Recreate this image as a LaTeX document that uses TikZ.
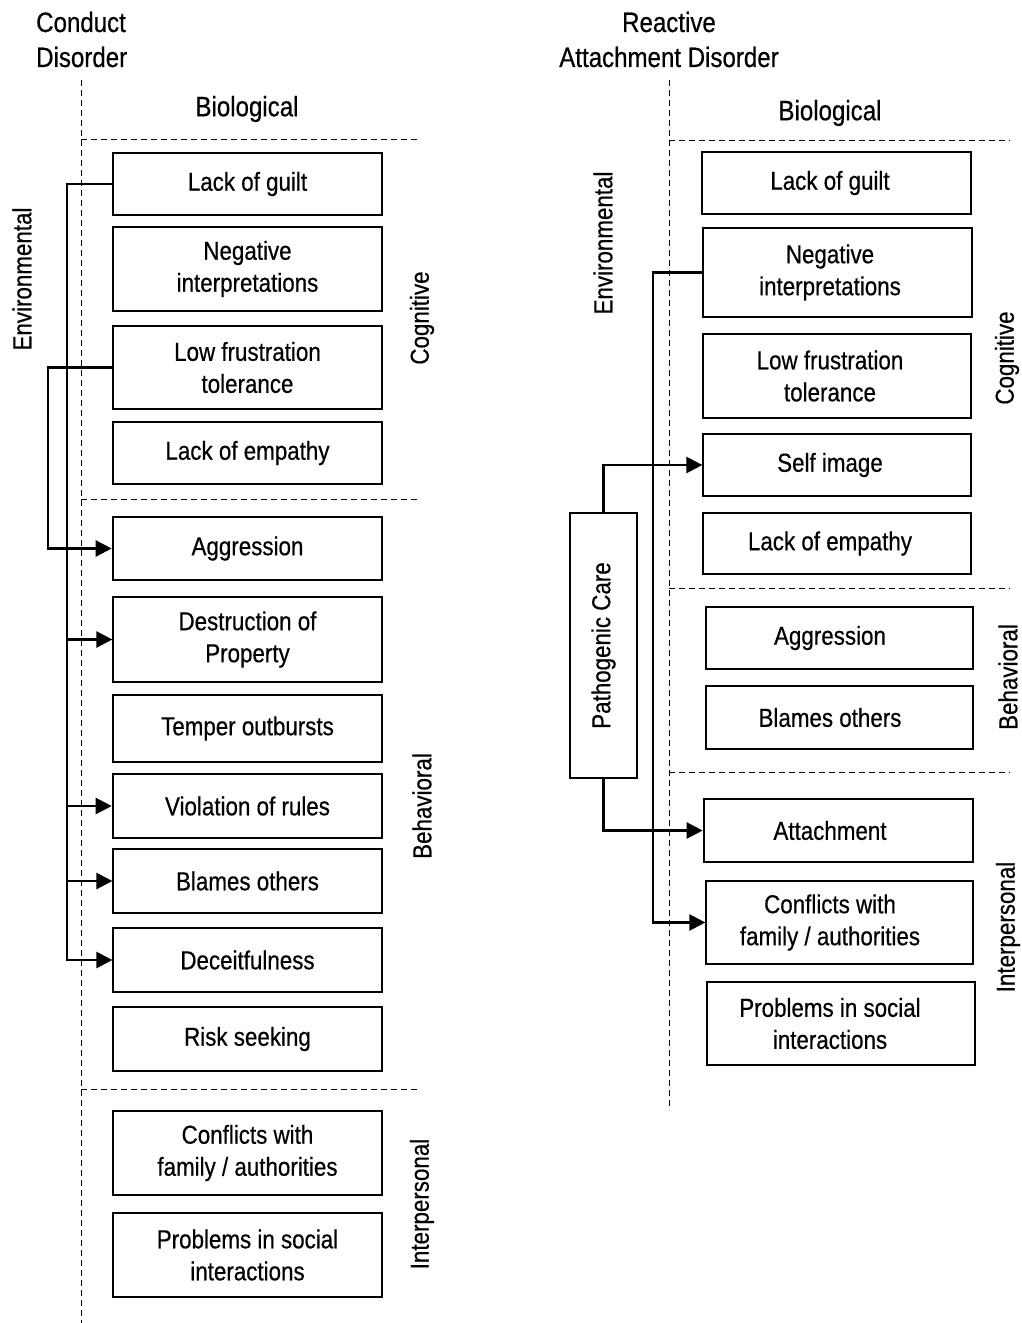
\documentclass[tikz,border=0pt]{standalone}
\usepackage{fontspec}
\setmainfont{Liberation Sans}[FakeStretch=0.86,FakeBold=0.5]
\usetikzlibrary{arrows.meta}
\newcommand\boxtxt{\fontsize{26}{32}\selectfont}
\newcommand\lbltxt{\fontsize{28}{35}\selectfont}
\newcommand\mybox[7][]{%
  \node[box,#1,minimum width={(#5)-(#3)},minimum height={(#6)-(#4)}] (#2)
    at ({((#3)+(#5))/2},{((#4)+(#6))/2}) {#7};}
% right-column boxes: text centred at x = 830
\newcommand\myboxR[7][]{%
  \node[box,#1,minimum width={(#5)-(#3)},minimum height={(#6)-(#4)},
    label={[font=\boxtxt,align=center,inner sep=0pt,xshift={830-((#3)+(#5))/2}]center:{#7}}] (#2)
    at ({((#3)+(#5))/2},{((#4)+(#6))/2}) {};}
\begin{document}
\begin{tikzpicture}[x=1pt,y=-1pt,
  box/.style={draw=black,line width=1.2pt,inner sep=0pt,align=center,font=\boxtxt},
  thickbox/.style={line width=2.6pt},
  conn/.style={line width=2.4pt,line join=miter},
  arr/.style={-{Triangle[length=16pt,width=16pt]}},
  divider/.style={line width=1pt,dash pattern=on 6pt off 4pt},
  side/.style={rotate=90,font=\boxtxt,inner sep=0pt},
  head/.style={font=\lbltxt,inner sep=0pt}]
\useasboundingbox (0,0) rectangle (1021,1323);

% ---------------- Left: Conduct Disorder ----------------
\node[head,anchor=north west,align=left] (titleL) at (36,11.5) {Conduct\\Disorder};
\node[head] (bioL) at (247,109) {Biological};
\draw[divider] (81,80) -- (81,1323);
\draw[divider] (81,139) -- (420,139);
\draw[divider] (81,499) -- (420,499);
\draw[divider] (81,1089) -- (420,1089);

\node[side] (envL) at (22,279) {Environmental};
\node[side] (cogL) at (422,318) {Cognitive};
\node[side] (behL) at (422,806) {Behavioral};
\node[side] (intL) at (422,1204) {Interpersonal};

\mybox[thickbox]{guiltL}{113}{153}{382}{215}{Lack of guilt}
\mybox{negL}{113}{227}{382}{311}{Negative\\interpretations}
\mybox{lowL}{113}{326}{382}{409}{Low frustration\\tolerance}
\mybox{empL}{113}{422}{382}{484}{Lack of empathy}
\mybox[thickbox]{aggL}{113}{517}{382}{580}{Aggression}
\mybox{destL}{113}{597}{382}{682}{Destruction of\\Property}
\mybox{tempL}{113}{695}{382}{762}{Temper outbursts}
\mybox[thickbox]{violL}{113}{774}{382}{838}{Violation of rules}
\mybox{blameL}{113}{849}{382}{913}{Blames others}
\mybox{deceitL}{113}{928}{382}{992}{Deceitfulness}
\mybox{riskL}{113}{1007}{382}{1071}{Risk seeking}
\mybox[thickbox]{confL}{113}{1111}{382}{1195}{Conflicts with\\family / authorities}
\mybox{probL}{113}{1213}{382}{1297}{Problems in social\\interactions}

\coordinate (trunkA) at (67,184);
\coordinate (trunkB) at (48,367.5);
\draw[conn,arr] (guiltL.west) -- (trunkA) |- (deceitL.west);
\draw[conn,arr] (trunkA |- destL.west) -- (destL.west);
\draw[conn,arr] (trunkA |- violL.west) -- (violL.west);
\draw[conn,arr] (trunkA |- blameL.west) -- (blameL.west);
\draw[conn,arr] (lowL.west) -- (trunkB) |- (aggL.west);

% ---------------- Right: Reactive Attachment Disorder ----------------
\node[head,anchor=north,align=center] (titleR) at (669,11.5) {Reactive\\Attachment Disorder};
\node[head] (bioR) at (830,113) {Biological};
\draw[divider] (669,80) -- (669,1110);
\draw[divider] (669,140) -- (1010,140);
\draw[divider] (669,588) -- (1010,588);
\draw[divider] (669,772) -- (1010,772);

\node[side] (envR) at (603,243) {Environmental};
\node[side] (cogR) at (1007,358) {Cognitive};
\node[side] (behR) at (1008,677) {Behavioral};
\node[side] (intR) at (1008,927) {Interpersonal};

\myboxR{guiltR}{702}{152}{971}{214}{Lack of guilt}
\myboxR{negR}{703}{228}{972}{317}{Negative\\interpretations}
\myboxR{lowR}{703}{334}{971}{418}{Low frustration\\tolerance}
\myboxR{selfR}{703}{434}{971}{496}{Self image}
\myboxR{empR}{703}{513}{971}{574}{Lack of empathy}
\myboxR{aggR}{706}{607}{973}{669}{Aggression}
\myboxR{blameR}{706}{686}{973}{749}{Blames others}
\myboxR[thickbox]{attR}{704}{799}{973}{862}{Attachment}
\myboxR{confR}{706}{881}{973}{964}{Conflicts with\\family / authorities}
\myboxR{probR}{707}{982}{975}{1065}{Problems in social\\interactions}

\node[box,rotate=90,minimum width=265pt,minimum height=67pt] (pathR) at (603.5,645.5) {Pathogenic Care};

\coordinate (trunkC) at (653,272.5);
\draw[conn,arr] (negR.west) -- (trunkC) |- (confR.west);
\draw[conn,arr] (pathR.east) |- (selfR.west);
\draw[conn,arr] (pathR.west) |- (attR.west);
\end{tikzpicture}
\end{document}
